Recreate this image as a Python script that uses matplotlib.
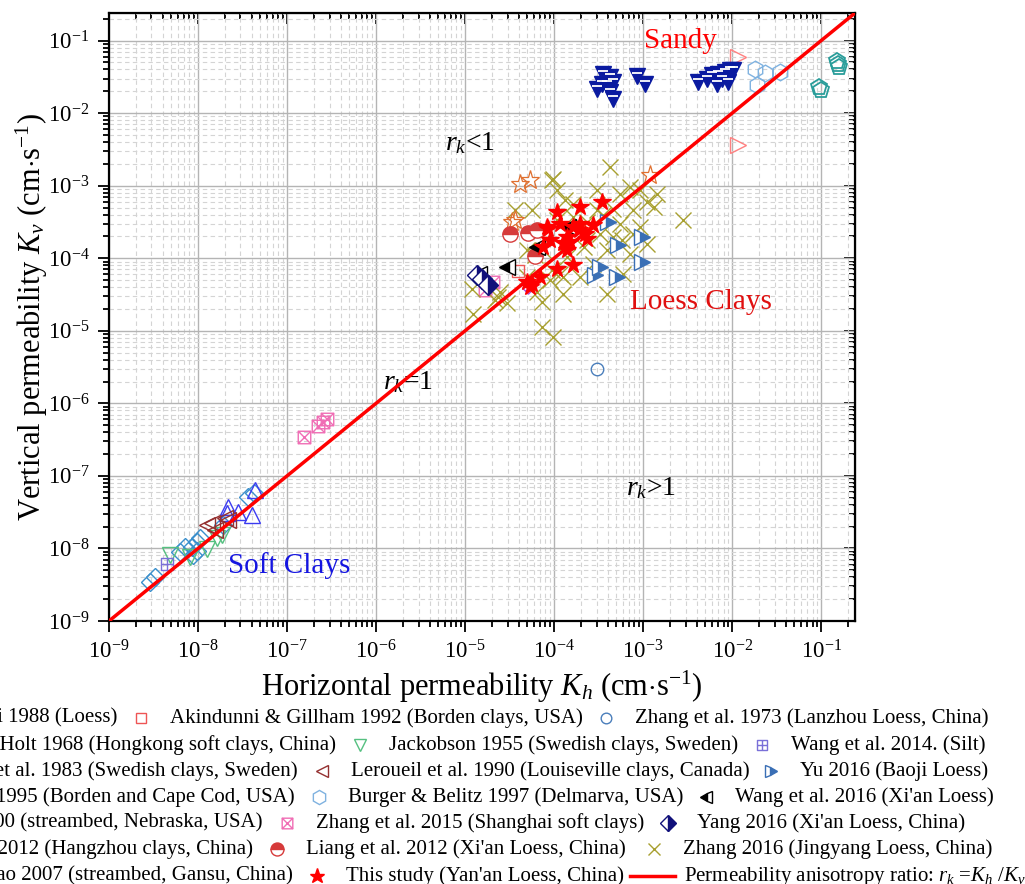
import numpy as np
import matplotlib
matplotlib.use("Agg")
import matplotlib.pyplot as plt
from matplotlib.path import Path
from matplotlib.transforms import offset_copy
from matplotlib.ticker import LogLocator, FuncFormatter, NullFormatter

plt.rcParams['font.family'] = 'Liberation Serif'
plt.rcParams['mathtext.fontset'] = 'custom'
plt.rcParams['mathtext.rm'] = 'Liberation Serif'
plt.rcParams['mathtext.it'] = 'Liberation Serif:italic'

# ---- data (cm/s) ----
lei_kh = [4.15e-5, 5.37e-5, 3.35e-5, 3.65e-5, 1.18e-3]
lei_kv = [1.07e-3, 1.21e-3, 3.16e-4, 3.41e-4, 1.39e-3]

akindunni_kh = [3.97e-5]
akindunni_kv = [6.68e-5]

zhang1973_kh = [3.04e-4]
zhang1973_kv = [2.96e-6]

lumb_kh = [2.19e-8, 2.84e-8, 4.0e-8, 4.37e-8, 2.1e-8]
lumb_kv = [3.75e-8, 3.2e-8, 2.88e-8, 6.4e-8, 3.04e-8]

jackobson_kh = [4.84e-9, 8.1e-9, 1.25e-8, 1.62e-8, 1.85e-8]
jackobson_kv = [8.1e-9, 7.7e-9, 9.7e-9, 1.38e-8, 1.53e-8]

wang2014_kh = [4.45e-9]
wang2014_kv = [6.1e-9]

tavenas_kh = [2.89e-9, 3.29e-9, 6.28e-9, 7.15e-9, 8.5e-9, 9.66e-9, 9.66e-9, 1.05e-8, 8.85e-9, 1.92e-8, 3.67e-8, 4.26e-8]
tavenas_kv = [3.48e-9, 4.0e-9, 9.0e-9, 1.04e-8, 1.04e-8, 9.3e-9, 1.24e-8, 1.38e-8, 8.1e-9, 2.1e-8, 5.06e-8, 5.74e-8]

leroueil_kh = [1.25e-8, 1.43e-8, 1.55e-8, 2.01e-8, 2.19e-8]
leroueil_kv = [2.1e-8, 2.22e-8, 1.79e-8, 2.6e-8, 2.46e-8]

yu_kh = [4.07e-4, 9.67e-4, 5.28e-4, 9.67e-4, 2.89e-4, 3.29e-4, 5.06e-4]
yu_kv = [3.16e-4, 1.97e-4, 1.51e-4, 8.9e-5, 5.83e-5, 7.6e-5, 5.53e-5]

hess_kh = [1.16e-2, 1.16e-2]
hess_kv = [5.93e-2, 3.6e-3]

burger_kh = [1.81e-2, 2.35e-2, 1.89e-2, 3.46e-2]
burger_kv = [4.1e-2, 3.56e-2, 2.41e-2, 3.68e-2]

wang2016_kh = [2.94e-5, 6.4e-5, 1.45e-5, 1.45e-4]
wang2016_kv = [7.6e-5, 1.43e-4, 6.0e-5, 2.7e-4]

chen_kh = [0.15, 0.155, 0.16, 0.095, 0.1]
chen_kv = [0.052, 0.047, 0.043, 0.023, 0.021]

zhang2015_kh = [1.55e-7, 2.25e-7, 2.52e-7, 2.79e-7, 1.68e-5, 2.08e-5]
zhang2015_kv = [3.42e-7, 4.85e-7, 5.6e-7, 6.0e-7, 3.62e-5, 4.74e-5]

yang_kh = [1.35e-5, 1.54e-5, 1.83e-5]
yang_kv = [5.83e-5, 5.25e-5, 4.25e-5]

hangzhou_kh = [5.14e-5]
hangzhou_kv = [3.83e-5]

liang_kh = [3.2e-5, 5.14e-5, 6.4e-5, 6.12e-5]
liang_kv = [2.19e-4, 2.23e-4, 2.43e-4, 1.07e-4]

zhang2016_kh = [1.19e-5, 1.24e-5, 2.17e-5, 2.94e-5, 3.65e-5, 5.61e-5, 9.42e-5, 1.07e-4, 1.33e-4, 1.65e-4,
                9.42e-5, 1.17e-4, 1.27e-4, 7.27e-5, 7.27e-5, 9.84e-5, 7.59e-5, 2.14e-4, 2.33e-4, 3.02e-4,
                4.26e-4, 4.64e-4, 5.52e-4, 7.15e-4, 7.78e-4, 9.25e-4, 1.1e-3, 1.31e-3, 1.42e-3, 2.84e-3,
                3.91e-4, 6.01e-4, 7.15e-4, 1.1e-3, 5.52e-4, 3.29e-4, 2.77e-4, 1.96e-4, 1.39e-4, 1.65e-4,
                1.07e-4, 4.93e-5, 6.12e-5, 2.47e-5, 6.38e-5, 4.93e-5, 3.91e-4, 4.64e-4, 7.78e-4, 9.25e-4,
                3.02e-4, 2.33e-4, 3.58e-4, 5.76e-4, 1.27e-4, 9.02e-5, 9.84e-5, 2.37e-5]
zhang2016_kv = [3.82e-5, 1.73e-5, 2.64e-5, 2.38e-5, 4.58e-4, 4.58e-4, 1.19e-3, 8.65e-4, 6.3e-4, 5.66e-4,
                6.84e-5, 6.15e-5, 3.26e-5, 2.5e-5, 1.13e-5, 8.2e-6, 1.29e-4, 1.43e-4, 1.77e-4, 8.65e-4,
                1.81e-3, 4.83e-4, 7.78e-4, 9.6e-4, 4.58e-4, 8.65e-4, 5.97e-4, 5.09e-4, 7.78e-4, 3.34e-4,
                3.26e-5, 6.15e-5, 1.16e-4, 1.59e-4, 3.0e-4, 2.19e-4, 8.45e-5, 5.53e-5, 1.04e-4, 3.71e-4,
                3.34e-4, 1.29e-4, 1.1e-4, 3.44e-5, 3.44e-5, 5.53e-5, 1.29e-4, 1.97e-4, 2.19e-4, 2.7e-4,
                4.58e-4, 3.16e-4, 3.91e-4, 1.77e-4, 5.53e-5, 4.98e-5, 1.25e-3, 2.93e-5]

zhao_kh = [3.58e-4, 4.26e-4, 3.02e-4, 3.43e-4, 3.91e-4, 4.64e-4, 4.26e-4, 4.64e-4, 8.5e-4, 1.05e-3,
           4.18e-3, 5.2e-3, 5.92e-3, 7.02e-3, 8.34e-3, 9.5e-3, 9.09e-3, 6.73e-3, 7.66e-3, 1.03e-2]
zhao_kv = [3.42e-2, 3.14e-2, 2.18e-2, 2.55e-2, 2.55e-2, 2.68e-2, 1.95e-2, 1.58e-2, 3.21e-2, 2.55e-2,
           2.68e-2, 2.99e-2, 3.31e-2, 3.5e-2, 3.68e-2, 3.89e-2, 2.68e-2, 2.55e-2, 2.99e-2, 3.89e-2]

study_kh = [1.07e-4, 1.96e-4, 3.43e-4, 1.17e-4, 8.28e-5, 1.65e-4, 1.39e-4, 1.88e-4, 2.23e-4, 9.02e-5,
            1.39e-4, 1.65e-4, 1.07e-4, 6.97e-5, 5.61e-5, 4.93e-5, 1.96e-4, 2.77e-4, 1.51e-4, 8.63e-5,
            7.59e-5, 1.27e-4, 2.33e-4, 5.37e-5]
study_kv = [4.34e-4, 5.09e-4, 5.97e-4, 3.0e-4, 2.7e-4, 2.7e-4, 1.97e-4, 2.43e-4, 2.19e-4, 1.77e-4,
            1.29e-4, 8.0e-5, 7.2e-5, 5.53e-5, 4.48e-5, 4.72e-5, 3.0e-4, 2.85e-4, 1.68e-4, 2.56e-4,
            1.43e-4, 1.6e-4, 1.87e-4, 4.03e-5]

k_lim = [1e-9, 0.24]

# ---- custom markers ----
M, L, C = Path.MOVETO, Path.LINETO, Path.CLOSEPOLY
sq_plus = Path([(-1, -1), (1, -1), (1, 1), (-1, 1), (-1, -1), (0, -1), (0, 1), (-1, 0), (1, 0)],
               [M, L, L, L, C, M, L, M, L])
sq_cross = Path([(-1, -1), (1, -1), (1, 1), (-1, 1), (-1, -1), (-1, -1), (1, 1), (-1, 1), (1, -1)],
                [M, L, L, L, C, M, L, M, L])
dia_cross = Path([(0, -1), (1, 0), (0, 1), (-1, 0), (0, -1), (-.5, -.5), (.5, .5), (-.5, .5), (.5, -.5)],
                 [M, L, L, L, C, M, L, M, L])


def st(marker, color, ms, fill='none', fs='full', alt='white', mew=1.0):
    return dict(marker=marker, mec=color, mfc=fill, ms=ms, fillstyle=fs,
                markerfacecoloralt=alt, mew=mew, ls='none')


S = {
    'lei': st('*', '#E07030', 14, mew=0.9),
    'akin': st('s', '#EE5555', 8),
    'zh73': st('o', '#4A7EBB', 9),
    'lumb': st('^', '#3B3BF0', 11),
    'jack': st('v', '#55C080', 11),
    'w14': st(sq_plus, '#7A70D8', 8),
    'tav': st('D', '#3A8FCC', 9),
    'ler': st('<', '#943030', 11),
    'yu': st('>', '#3A6FB5', 11, fill='#3A6FB5', fs='right'),
    'hess': st('>', '#FF8080', 11),
    'burg': st('h', '#7FB2E0', 12),
    'w16': st('<', 'black', 11, fill='black', fs='left'),
    'chen': st('p', '#2A9D9A', 12, mew=1.3),
    'zh15': st(sq_cross, '#F06EB5', 9),
    'yang': st('D', '#10107A', 10, fill='#10107A', fs='right'),
    'hz': st(dia_cross, '#B050E0', 8),
    'liang': st('o', '#D63A3A', 11, fill='#D63A3A', fs='top'),
    'zh16': st('x', '#A8A030', 11, mew=1.0),
    'zhao': st('v', '#0A1AA0', 11, fill='#0A1AA0'),
    'study': st('*', 'red', 13, fill='red'),
}

series = [
    ('tav', tavenas_kh, tavenas_kv), ('lumb', lumb_kh, lumb_kv), ('jack', jackobson_kh, jackobson_kv),
    ('ler', leroueil_kh, leroueil_kv), ('w14', wang2014_kh, wang2014_kv), ('zh15', zhang2015_kh, zhang2015_kv),
    ('zh73', zhang1973_kh, zhang1973_kv), ('hess', hess_kh, hess_kv), ('burg', burger_kh, burger_kv),
    ('chen', chen_kh, chen_kv), ('zhao', zhao_kh, zhao_kv), ('zh16', zhang2016_kh, zhang2016_kv),
    ('lei', lei_kh, lei_kv), ('liang', liang_kh, liang_kv), ('akin', akindunni_kh, akindunni_kv),
    ('hz', hangzhou_kh, hangzhou_kv), ('yu', yu_kh, yu_kv), ('w16', wang2016_kh, wang2016_kv),
    ('yang', yang_kh, yang_kv), ('study', study_kh, study_kv),
]

fig = plt.figure(figsize=(10.25, 8.84), dpi=100)
ax = fig.add_axes([109 / 1025, 1 - 621 / 884, 746 / 1025, 608 / 884])
ax.set_xscale('log')
ax.set_yscale('log')
ax.set_xlim(k_lim)
ax.set_ylim(k_lim)

for key, kh, kv in series:
    ax.plot(kh, kv, zorder=3, **S[key])
    if key == 'zhao':
        # thin white band near the top of each triangle, like the original symbol
        up = offset_copy(ax.transData, fig=fig, y=2.2, units='points')
        ax.plot(kh, kv, marker='_', ls='none', ms=7, mew=1.3, color='white',
                transform=up, zorder=3)
ax.plot(k_lim, k_lim, color='red', lw=2.5, zorder=4)

fmt = FuncFormatter(lambda v, p: r'$\mathregular{10^{%d}}$' % round(np.log10(v)))
for axis in (ax.xaxis, ax.yaxis):
    axis.set_major_locator(LogLocator(base=10, numticks=20))
    axis.set_minor_locator(LogLocator(base=10, subs=np.arange(2, 10), numticks=20))
    axis.set_major_formatter(fmt)
    axis.set_minor_formatter(NullFormatter())

ax.grid(True, which='major', color='#b4b4b4', lw=1.0, zorder=0)
ax.grid(True, which='minor', color='#d4d4d4', lw=0.8, ls=(0, (4, 3)), zorder=0)
ax.set_axisbelow(True)
ax.tick_params(which='both', direction='out', labelsize=16.5, width=1.3, pad=6)
ax.tick_params(which='major', length=8)
ax.tick_params(which='minor', length=4)
for sp in ax.spines.values():
    sp.set_linewidth(1.6)

for side in ('top', 'right'):
    sec = ax.secondary_xaxis('top') if side == 'top' else ax.secondary_yaxis('right')
    a = sec.xaxis if side == 'top' else sec.yaxis
    a.set_major_locator(LogLocator(base=10, numticks=20))
    a.set_minor_locator(LogLocator(base=10, subs=np.arange(2, 10), numticks=20))
    a.set_major_formatter(NullFormatter())
    a.set_minor_formatter(NullFormatter())
    sec.tick_params(which='both', direction='in', width=1.3)
    sec.tick_params(which='major', length=8)
    sec.tick_params(which='minor', length=4)

ax.set_xlabel(r'Horizontal permeability $K_h$ (cm$\cdot$s$^{-1}$)', fontsize=22, labelpad=4)
ax.set_ylabel(r'Vertical permeability $K_v$ (cm$\cdot$s$^{-1}$)', fontsize=22, labelpad=-2)

ax.text(2.6e-3, 0.1, 'Sandy', color='red', fontsize=21, ha='center', va='center')
ax.text(7.15e-4, 2.48e-5, 'Loess Clays', color='#E01010', fontsize=21, ha='left', va='center')
ax.text(2.17e-8, 5.9e-9, 'Soft Clays', color='#1515E0', fontsize=21, ha='left', va='center')
ax.text(5.96e-6, 3.84e-3, r'$r_k$<1', fontsize=20, ha='left', va='center')
ax.text(1.2e-6, 1.96e-6, r'$r_k$=1', fontsize=20, ha='left', va='center')
ax.text(6.44e-4, 6.8e-8, r'$r_k$>1', fontsize=20, ha='left', va='center')

# ---- legend, laid out in figure pixels like the original flowing text ----
lax = fig.add_axes([0, 0, 1, 1])
lax.set_xlim(0, 1025)
lax.set_ylim(884, 0)
lax.axis('off')

legend_rows = [
    [('lei', 'Lei 1988 (Loess)'), ('akin', 'Akindunni & Gillham 1992 (Borden clays, USA)'),
     ('zh73', 'Zhang et al. 1973 (Lanzhou Loess, China)')],
    [('lumb', 'Lumb & Holt 1968 (Hongkong soft clays, China)'), ('jack', 'Jackobson 1955 (Swedish clays, Sweden)'),
     ('w14', 'Wang et al. 2014. (Silt)')],
    [('tav', 'Tavenas et al. 1983 (Swedish clays, Sweden)'), ('ler', 'Leroueil et al. 1990 (Louiseville clays, Canada)'),
     ('yu', 'Yu 2016 (Baoji Loess)')],
    [('hess', 'Hess 1995 (Borden and Cape Cod, USA)'), ('burg', 'Burger & Belitz 1997 (Delmarva, USA)'),
     ('w16', "Wang et al. 2016 (Xi'an Loess)")],
    [('chen', 'Chen 2000 (streambed, Nebraska, USA)'), ('zh15', 'Zhang et al. 2015 (Shanghai soft clays)'),
     ('yang', "Yang 2016 (Xi'an Loess, China)")],
    [('hz', 'Wang 2012 (Hangzhou clays, China)'), ('liang', "Liang et al. 2012 (Xi'an Loess, China)"),
     ('zh16', 'Zhang 2016 (Jingyang Loess, China)')],
    [('zhao', 'Zhao 2007 (streambed, Gansu, China)'), ('study', "This study (Yan'an Loess, China)"),
     ('line', r'Permeability anisotropy ratio: $r_k$ =$K_h$ /$K_v$')],
]
row_y = [718, 745, 771, 797, 823, 849, 876]
# marker x positions of the 2nd and 3rd entries in each row
mark_x = [(141, 606), (360, 762), (322, 771), (319, 706), (287, 668), (277, 654), (317, 652)]
leg_fs = 15

fig.canvas.draw()
renderer = fig.canvas.get_renderer()
for row, y, mx in zip(legend_rows, row_y, mark_x):
    # first entry: text ends just before the second marker, its symbol further left
    key0, lab0 = row[0]
    t0 = lax.text(mx[0] - 24, y, lab0, fontsize=leg_fs, ha='right', va='center')
    w0 = t0.get_window_extent(renderer).width
    sty = dict(S[key0])
    sty['ms'] = sty['ms'] * 0.85
    lax.plot([mx[0] - 24 - w0 - 28], [y], clip_on=False, **sty)
    for j, (key, label) in enumerate(row[1:]):
        x = mx[j]
        if key == 'line':
            lax.plot([x - 22, x + 23], [y, y], color='red', lw=2.5)
            tx = x + 32
        else:
            sty = dict(S[key])
            sty['ms'] = sty['ms'] * 0.85
            lax.plot([x], [y], **sty)
            tx = x + 29
        lax.text(tx, y, label, fontsize=leg_fs, ha='left', va='center')

fig.savefig('out.png', dpi=100)
